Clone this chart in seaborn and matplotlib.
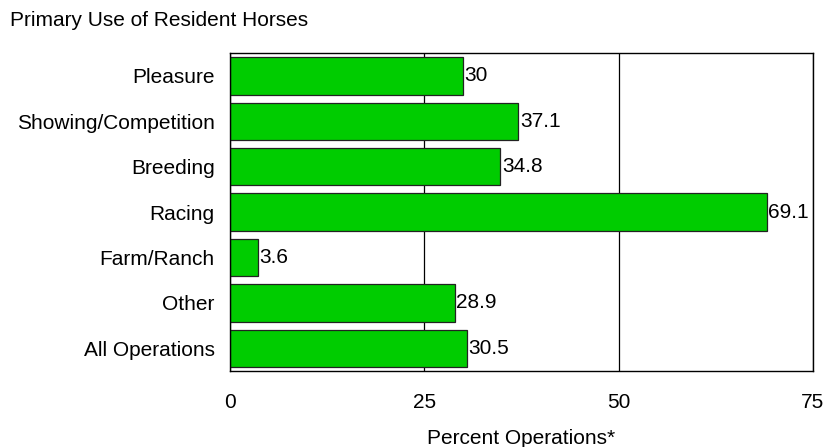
import matplotlib
matplotlib.use("Agg")
import matplotlib.pyplot as plt
import seaborn as sns
import pandas as pd

categories = ["Pleasure", "Showing/Competition", "Breeding", "Racing",
              "Farm/Ranch", "Other", "All Operations"]
percents = [30, 37.1, 34.8, 69.1, 3.6, 28.9, 30.5]
x_ticks = [0, 25, 50, 75]

sns.set_theme(style="white")
plt.rcParams["font.family"] = ["Liberation Sans", "DejaVu Sans"]

df = pd.DataFrame({"use": categories, "pct": percents})

fig = plt.figure(figsize=(8.28, 4.47), dpi=100)
ax = fig.add_axes([0.2778, 0.170, 0.704, 0.711])

sns.barplot(data=df, x="pct", y="use", orient="h", color="#00CC00",
            saturation=1, edgecolor="#222222", linewidth=0.9, width=0.82, ax=ax)

ax.set_xlim(0, 75)
ax.set_xticks(x_ticks)
ax.set_axisbelow(True)
ax.xaxis.grid(True, color="black", linewidth=0.9)
ax.yaxis.grid(False)
ax.tick_params(axis="both", length=0, labelsize=15, colors="black")
ax.tick_params(axis="y", pad=11)
ax.tick_params(axis="x", pad=16)
for s in ax.spines.values():
    s.set_visible(True)
    s.set_color("black")
    s.set_linewidth(1.0)

ax.bar_label(ax.containers[0], labels=[f"{v:g}" for v in percents],
             padding=1, fontsize=15, color="black")

ax.set_ylabel("")
ax.set_xlabel("Percent Operations*", fontsize=15, labelpad=12, color="black")

fig.text(0.012, 1 - 20 / 447, "Primary Use of Resident Horses",
         fontsize=15, va="center", ha="left", color="black")

fig.savefig("out.png", dpi=100)
